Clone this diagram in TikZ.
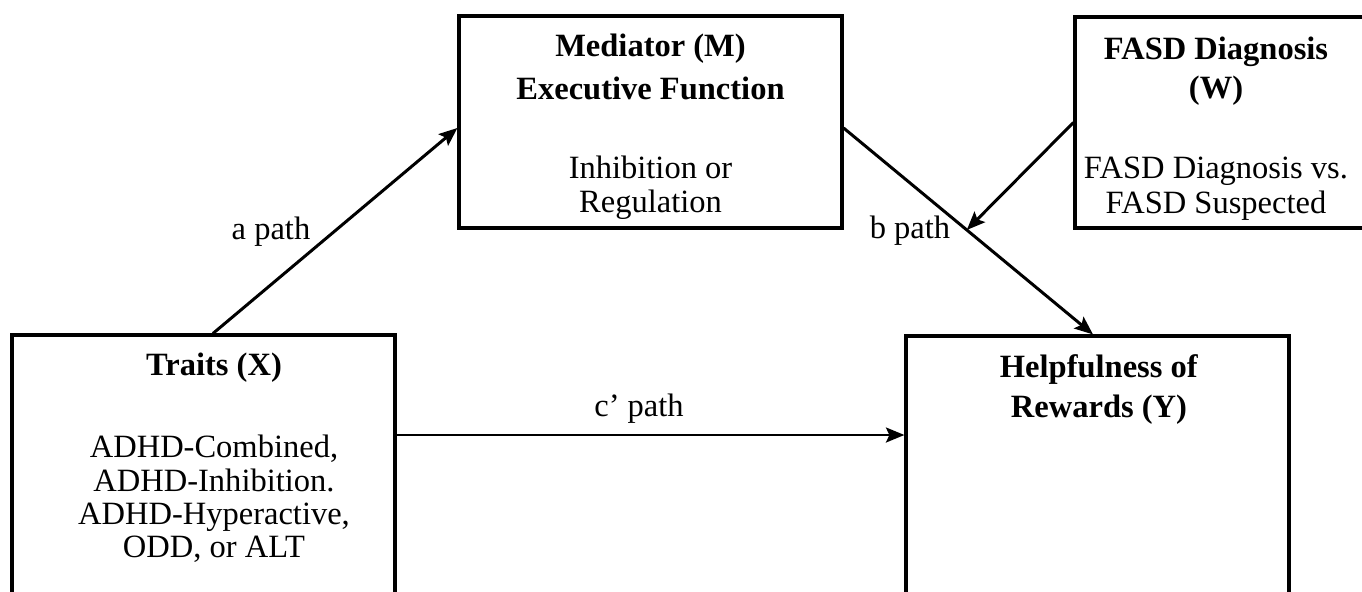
\documentclass[tikz,border=0pt]{standalone}
\usepackage{fontspec}
\setmainfont{Liberation Serif}
\usetikzlibrary{arrows.meta,calc}

\begin{document}
\begin{tikzpicture}[>={Stealth[length=10.5pt,width=8.5pt,inset=2pt]},
  box/.style={draw,line width=1.8pt,minimum width=7.66cm,inner sep=0pt},
  boxtext/.style={anchor=north,align=center,inner sep=0pt,font=\fontsize{18.5}{19}\selectfont},
  pathlabel/.style={font=\fontsize{18.5}{19}\selectfont},
  pathline/.style={->,line width=1.7pt}]
  \useasboundingbox (0,0) rectangle (27.24,11.82);
  \clip (0,0) rectangle (27.24,11.82);
  % boxes
  \node[box,minimum height=4.24cm] (med) at (13.01,9.38) {};
  \node[box,minimum width=6cm,minimum height=4.22cm] (fasd) at (24.5,9.37) {};
  \node[box,minimum height=5.62cm] (trt) at (4.07,2.31) {};
  \node[box,minimum height=5.6cm] (hlp) at (21.95,2.3) {};
  % box texts
  \node[boxtext] (medtxt) at (13.01,11.146) {\textbf{Mediator (M)}\\[5.5pt]\textbf{Executive Function}\\[26pt]Inhibition or\\Regulation};
  \node[boxtext] (fasdtxt) at (24.32,11.08) {\textbf{FASD Diagnosis}\\[3.2pt]\textbf{(W)}\\[26.5pt]FASD Diagnosis vs.\\[0.8pt]FASD Suspected};
  \node[boxtext] (trttxt) at (4.28,4.766) {\textbf{Traits (X)}\\[27.7pt]ADHD-Combined,\\ADHD-Inhibition.\\ADHD-Hyperactive,\\ODD, or ALT};
  \node[boxtext] (hlptxt) at (21.98,4.726) {\textbf{Helpfulness of}\\[3.5pt]\textbf{Rewards (Y)}};
  % paths
  \coordinate (cy) at (0,3.12);
  \draw[pathline] ($(trt.north)+(0.19,0)$) -- ($(med.west)+(0,-0.12)$);
  \draw[pathline] ($(med.east)+(0,-0.12)$) -- ($(hlp.north)+(-0.09,0)$)
    coordinate[pos=0.494] (bmid);
  \draw[pathline] (fasd.west) -- (bmid);
  \draw[pathline] (trt.east |- cy) -- (hlp.west |- cy);
  % path labels
  \node[pathlabel] (alabel) at (5.42,7.18) {a path};
  \node[pathlabel] (blabel) at (18.2,7.2) {b path};
  \node[pathlabel] (clabel) at (12.78,3.64) {c’ path};
\end{tikzpicture}
\end{document}
